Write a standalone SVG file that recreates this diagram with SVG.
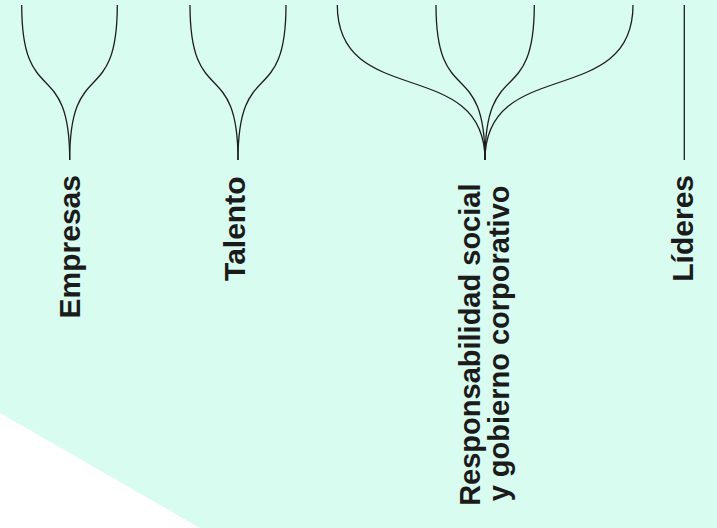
<svg xmlns="http://www.w3.org/2000/svg" width="717" height="528" viewBox="0 0 717 528">
<style>
.c{fill:none;stroke:#1e1e1e;stroke-width:1.3}
.t{font-family:"Liberation Sans",Arial,sans-serif;font-weight:bold;font-size:30px;fill:#1b1b1b}
.s{font-size:29px}
</style>
<rect x="0" y="0" width="717" height="528" fill="#d9fcf0"/>
<polygon points="0,413 200,528 0,528" fill="#ffffff"/>
<g id="connectors">
<path class="c" d="M21.7,5 C21.7,110 69.7,55 69.7,160"/>
<path class="c" d="M117.3,5 C117.3,110 69.7,55 69.7,160"/>
<path class="c" d="M190,5 C190,110 238,55 238,160"/>
<path class="c" d="M286,5 C286,110 238,55 238,160"/>
<path class="c" d="M337.3,5 C337.3,110 485,55 485,160"/>
<path class="c" d="M436,5 C436,110 485,55 485,160"/>
<path class="c" d="M534.3,5 C534.3,110 485,55 485,160"/>
<path class="c" d="M633,5 C633,110 485,55 485,160"/>
<path class="c" d="M684.3,5 L684.3,160"/>
</g>
<g id="empresas"><text class="t" transform="translate(80,175) rotate(-90)" text-anchor="end">Empresas</text></g>
<g id="talento"><text class="t" transform="translate(245,176.5) rotate(-90)" text-anchor="end">Talento</text></g>
<g id="responsabilidad"><text class="t s" transform="translate(480,183.5) rotate(-90)" text-anchor="end">Responsabilidad social</text><text class="t s" transform="translate(508.5,185.5) rotate(-90)" text-anchor="end">y gobierno corporativo</text></g>
<g id="lideres"><text class="t" transform="translate(693.3,175) rotate(-90)" text-anchor="end">Líderes</text></g>
</svg>
